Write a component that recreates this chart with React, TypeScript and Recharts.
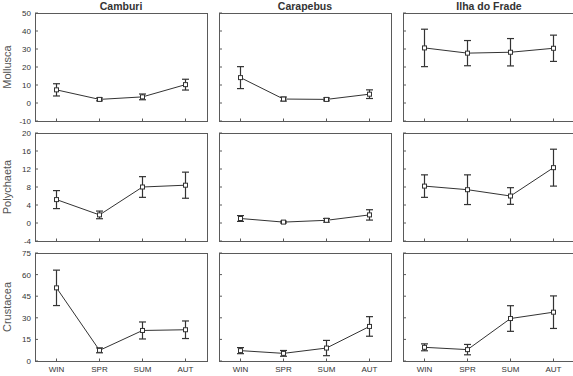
import React from 'react';
import { LineChart, Line, XAxis, YAxis, ErrorBar } from 'recharts';

const seasons = ['WIN', 'SPR', 'SUM', 'AUT'];
const sites = ['Camburi', 'Carapebus', 'Ilha do Frade'];
const taxa = ['Mollusca', 'Polychaeta', 'Crustacea'];

const molluscaTicks = [-10, 0, 10, 20, 30, 40, 50];
const polychaetaTicks = [-4, 0, 4, 8, 12, 16, 20];
const crustaceaTicks = [0, 15, 30, 45, 60, 75];

const molluscaCamburi = [7.3, 2.0, 3.4, 10.2];
const molluscaCamburiErr = [3.4, 0.8, 1.6, 3.0];
const molluscaCarapebus = [14.1, 2.2, 2.0, 4.9];
const molluscaCarapebusErr = [6.1, 1.1, 0.8, 2.4];
const molluscaIlha = [30.6, 27.7, 28.2, 30.4];
const molluscaIlhaErr = [10.4, 7.0, 7.6, 7.3];

const polychaetaCamburi = [5.2, 1.8, 8.0, 8.4];
const polychaetaCamburiErr = [2.0, 0.85, 2.3, 2.9];
const polychaetaCarapebus = [1.0, 0.2, 0.6, 1.8];
const polychaetaCarapebusErr = [0.65, 0.2, 0.4, 1.15];
const polychaetaIlha = [8.2, 7.4, 6.0, 12.3];
const polychaetaIlhaErr = [2.5, 3.3, 1.85, 4.1];

const crustaceaCamburi = [50.8, 7.4, 21.2, 21.7];
const crustaceaCamburiErr = [12.3, 1.7, 5.9, 6.1];
const crustaceaCarapebus = [7.2, 5.3, 9.0, 24.0];
const crustaceaCarapebusErr = [2.1, 2.0, 5.3, 6.8];
const crustaceaIlha = [9.5, 7.9, 29.5, 33.9];
const crustaceaIlhaErr = [2.4, 3.6, 8.9, 11.3];

const rows = [
  { ticks: molluscaTicks, series: [[molluscaCamburi, molluscaCamburiErr], [molluscaCarapebus, molluscaCarapebusErr], [molluscaIlha, molluscaIlhaErr]] },
  { ticks: polychaetaTicks, series: [[polychaetaCamburi, polychaetaCamburiErr], [polychaetaCarapebus, polychaetaCarapebusErr], [polychaetaIlha, polychaetaIlhaErr]] },
  { ticks: crustaceaTicks, series: [[crustaceaCamburi, crustaceaCamburiErr], [crustaceaCarapebus, crustaceaCarapebusErr], [crustaceaIlha, crustaceaIlhaErr]] },
];

const FONT = '"Liberation Sans", Arial, sans-serif';
const PANEL_LEFTS = [35, 219, 403];
const PANEL_TOPS = [13, 133, 253];
const PW = 172;
const PH = 108;
const YW = 40;
const MT = 5;
const PAD = 21.5;
const FRAME = '#5a5a5a';
const INK = '#333';

const SquareDot = (props: any) => {
  const { cx, cy, index } = props;
  if (cx == null || cy == null) return <g key={'d' + index} />;
  return (
    <rect key={'d' + index} x={cx - 2} y={cy - 2} width={4} height={4} fill="#fff" stroke={INK} strokeWidth={1} />
  );
};

const YTick = (props: any) => {
  const { x, y, payload, show } = props;
  return (
    <g>
      <line x1={x + 4} x2={x + 7} y1={y} y2={y} stroke={FRAME} strokeWidth={1} />
      {show && (
        <text x={x} y={y} dy={3} textAnchor="end" fontSize={8} fill={INK} fontFamily={FONT}>
          {payload.value}
        </text>
      )}
    </g>
  );
};

const XTick = (props: any) => {
  const { x, y, payload, show } = props;
  return (
    <g>
      <line x1={x} x2={x} y1={y - 4} y2={y - 6.5} stroke={FRAME} strokeWidth={1} />
      {show && (
        <text x={x} y={y} dy={7} textAnchor="middle" fontSize={8} fill={INK} fontFamily={FONT}>
          {payload.value}
        </text>
      )}
    </g>
  );
};

function Panel({ means, errs, ticks, left, top, showY, showX }: any) {
  const data = seasons.map((s, i) => ({ season: s, mean: means[i], err: errs[i] }));
  const domain = [ticks[0], ticks[ticks.length - 1]];
  return (
    <>
      <div
        style={{
          position: 'absolute',
          left,
          top,
          width: PW + 1,
          height: PH + 1,
          boxSizing: 'border-box',
          border: `1px solid ${FRAME}`,
        }}
      />
      <div style={{ position: 'absolute', left: left - YW, top: top - MT }}>
        <LineChart width={PW + YW + 5} height={PH + MT + 20} data={data} margin={{ top: MT, right: 5, left: 0, bottom: 0 }}>
          <XAxis
            dataKey="season"
            type="category"
            interval={0}
            height={20}
            padding={{ left: PAD, right: PAD }}
            tickSize={0}
            tickMargin={4}
            axisLine={false}
            tickLine={false}
            tick={<XTick show={showX} />}
          />
          <YAxis
            type="number"
            domain={domain}
            ticks={ticks}
            interval={0}
            width={YW}
            tickSize={0}
            tickMargin={4}
            allowDataOverflow
            axisLine={false}
            tickLine={false}
            tick={<YTick show={showY} />}
          />
          <Line
            type="linear"
            dataKey="mean"
            stroke={INK}
            strokeWidth={1}
            dot={SquareDot}
            activeDot={false}
            isAnimationActive={false}
          >
            <ErrorBar dataKey="err" width={3.5} stroke={INK} strokeWidth={1.2} direction="y" isAnimationActive={false} />
          </Line>
        </LineChart>
      </div>
    </>
  );
}

export default function App() {
  return (
    <div style={{ position: 'absolute', left: 0, top: 0, width: 573, height: 376, overflow: 'hidden', background: '#fff' }}>
      <svg width={573} height={376} style={{ position: 'absolute', left: 0, top: 0 }}>
        {sites.map((s, i) => (
          <text key={s} x={PANEL_LEFTS[i] + PW / 2} y={9.5} textAnchor="middle" fontSize={10.5} fontWeight="bold" fill={INK} fontFamily={FONT}>
            {s}
          </text>
        ))}
        {taxa.map((t, j) => (
          <text
            key={t}
            x={0}
            y={0}
            transform={`translate(10.5, ${PANEL_TOPS[j] + PH / 2}) rotate(-90)`}
            textAnchor="middle"
            fontSize={11}
            fill="#555"
            fontFamily={FONT}
          >
            {t}
          </text>
        ))}
      </svg>
      {rows.map((row, j) =>
        row.series.map(([m, e], i) => (
          <Panel
            key={j + '-' + i}
            means={m}
            errs={e}
            ticks={row.ticks}
            left={PANEL_LEFTS[i]}
            top={PANEL_TOPS[j]}
            showY={i === 0}
            showX={j === 2}
          />
        ))
      )}
    </div>
  );
}
